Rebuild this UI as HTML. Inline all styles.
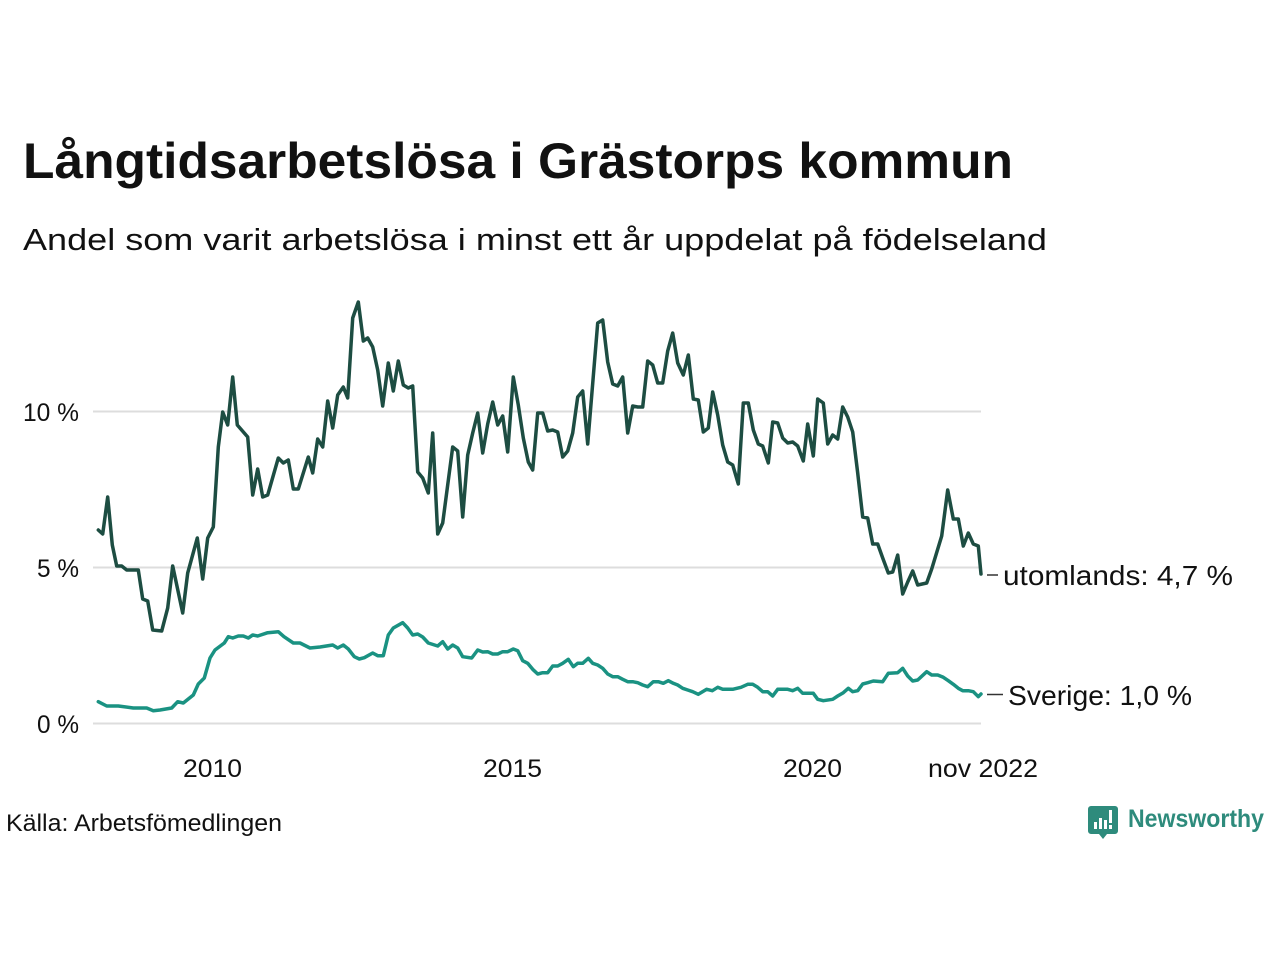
<!DOCTYPE html>
<html>
<head>
<meta charset="utf-8">
<style>
  html,body{margin:0;padding:0;background:#fff;}
  svg{display:block;}
  text{font-family:"Liberation Sans","DejaVu Sans",sans-serif;fill:#111;}
</style>
</head>
<body>
<svg width="1280" height="960" viewBox="0 0 1280 960" xmlns="http://www.w3.org/2000/svg">
  <rect width="1280" height="960" fill="#fff"/>
  <!-- Title -->
  <text x="23" y="178" font-size="50" font-weight="bold" textLength="990" lengthAdjust="spacingAndGlyphs">Långtidsarbetslösa i Grästorps kommun</text>
  <text x="23" y="250" font-size="31" textLength="1024" lengthAdjust="spacingAndGlyphs" fill="#1a1a1a">Andel som varit arbetslösa i minst ett år uppdelat på födelseland</text>

  <!-- gridlines -->
  <g stroke="#dddddd" stroke-width="2">
    <line x1="93" y1="411.5" x2="981" y2="411.5"/>
    <line x1="93" y1="567.5" x2="981" y2="567.5"/>
    <line x1="93" y1="723.5" x2="981" y2="723.5"/>
  </g>

  <!-- y tick labels -->
  <g font-size="25" text-anchor="end" fill="#1a1a1a">
    <text x="79" y="421" textLength="56" lengthAdjust="spacingAndGlyphs">10 %</text>
    <text x="79" y="577" textLength="42" lengthAdjust="spacingAndGlyphs">5 %</text>
    <text x="79" y="733" textLength="42" lengthAdjust="spacingAndGlyphs">0 %</text>
  </g>

  <!-- x tick labels -->
  <g font-size="25" fill="#1a1a1a">
    <text x="183" y="777" textLength="59" lengthAdjust="spacingAndGlyphs">2010</text>
    <text x="483" y="777" textLength="59" lengthAdjust="spacingAndGlyphs">2015</text>
    <text x="783" y="777" textLength="59" lengthAdjust="spacingAndGlyphs">2020</text>
    <text x="928" y="777" textLength="110" lengthAdjust="spacingAndGlyphs">nov 2022</text>
  </g>

  <!-- teal series: Sverige -->
  <polyline fill="none" stroke="#1a9282" stroke-width="3.5" stroke-linejoin="round" stroke-linecap="round"
    points="98.3,701.7 106.7,706 118.3,706 133.3,708 146.7,708 153.3,710.7 160,710 171.7,708 177.7,701.7 183.3,703 193.3,695 198.3,684 204.3,678 210,658 215,650 224.3,643 228.3,636.7 232.7,638 238.3,636 243.3,636 248.3,638 252.7,635 257.7,636 267.7,632.7 278.3,631.7 284,636.7 293.3,643 300,643 310,648 320,647 332.7,645 337.7,648 343.3,645 348.3,649 354.3,656.7 359.3,659 364.3,657.7 372.7,653 377.7,655.7 383.3,655.7 388.3,635 393.3,628 402.7,622.7 407.7,628 412.7,635 417.7,634 422.7,637 428.3,643 437.7,646 442.7,641.7 447.7,649 452.7,645 457.7,648 462.7,656.7 471.7,658 477.7,650 482.7,652 487.7,651.7 492.7,654 497.7,654 502.7,651.7 507.7,651.7 513.3,649 517.7,650.7 522.7,660.7 527.7,663.3 532.7,669.3 537.7,674 542.7,672.7 547.7,672.7 552.7,666 557.7,666 562.7,663.3 568.3,659.3 573.3,666.7 577.7,663.3 582.7,663.3 588.3,658.3 592.7,663.3 597.7,665 602.7,668.3 607.7,674 612.7,676.7 617.7,676.7 622.7,679.3 627.7,681.7 632.7,681.7 637.7,682.7 642.7,685 647.7,686.7 653.3,681.7 658.3,681.7 663.3,683.3 668.3,680.7 673.3,683.3 677.7,685 682.7,688.3 687.7,690 692.7,691.7 698.3,694.3 706.7,689.3 712.3,690.7 717.7,687.3 722.7,689.3 732.7,689.3 741,687.3 747.7,684.3 752.7,684.3 757.7,687.3 762.7,691.7 767.7,691.7 772.7,696 777.7,689.3 787.7,689.3 792.7,690.7 797.7,688.3 802.7,693.3 813.3,693.3 817.7,699.3 823.3,700.7 832.7,699.3 837.7,696 843.3,692.7 848.3,688.3 852.7,691.7 857.7,690.7 862.7,684 867.7,682.7 873.3,681 882.7,681.7 888.3,673.3 897.7,672.7 902.7,668.3 907.7,676 912.7,681 917.7,680 926.7,671.7 931.7,675 937.7,675 943.3,677.3 948.3,680.7 953.3,684.3 958.3,688.3 962.7,690.7 968.3,690.7 973.3,691.7 978.3,696.7 981,694"/>

  <!-- dark series: utomlands -->
  <polyline fill="none" stroke="#1d4d42" stroke-width="3.5" stroke-linejoin="round" stroke-linecap="round"
    points="98.3,530 102.7,534 107.7,497 112.3,545 116.7,566 121.7,566 126.7,570 138.3,570 142.7,599 147.7,601 152.7,630 161.7,631 167.7,608 172.7,566 182.7,613 187.7,573 197.3,538 202.7,579 207.7,538 213.3,527 218.3,447 222.7,412 227.7,425 232.7,377 237.3,425 247.7,437 252.7,495 257.7,469 262.7,497 267.7,495 278.3,458 283.3,463 288.3,460 293.3,489 298.3,489 308.3,457 312.7,473 317.7,439 322.7,447 327.7,401 332.7,428 337.7,395 343.3,387 347.7,398 352.7,318 358.3,302 363.3,341 367.7,338 372.7,347 377.7,370 382.7,406 388.3,363 393.3,391 398.3,361 403.3,385 408.3,388 412.7,386 417.7,472 422.7,478 428.3,493 432.7,433 437.7,534 442.7,523 452.7,447 457.7,451 462.7,517 467.7,455 472.7,433 477.7,413 482.7,453 487.7,424 492.7,402 497.7,425 502.7,416 507.7,452 513.3,377 518.3,405 523.3,438 528.3,462 532.7,470 537.7,413 542.7,413 547.7,431 552.7,430 557.7,432 562.7,457 567.7,451 572.7,433 577.7,397 582.7,391 587.7,444 597.7,323 602.7,320 607.7,362 612.7,384 617.7,386 622.7,377 627.7,433 632.7,406 637.7,407 642.7,407 647.7,361 652.7,365 657.7,383 662.7,383 667.7,351 672.7,333 677.7,363 683.3,375 688.3,355 693.3,399 698.3,400 703.3,432 708.3,428 712.7,392 717.7,415 722.7,445 727.7,462 732.7,465 738.3,484 743.3,403 748.3,403 753.3,430 758.3,444 762.7,446 768.3,463 772.7,422 777.7,423 782.7,438 787.7,443 792.7,442 797.7,446 803.3,461 807.7,424 813.3,456 817.7,399 823.3,403 827.7,444 832.7,435 837.7,439 842.7,407 847.7,417 852.7,432 857.7,473 862.7,517 867.7,518 872.7,544 877.7,544 882.7,558 888.3,573 892.7,572 897.7,555 902.7,594 907.7,582 912.7,571 917.7,585 926.7,583 931.7,569 941.7,536 947.7,490 953.3,519 958.3,519 963.3,546 968.3,533 973.3,544 978.3,546 981,574"/>

  <!-- end labels -->
  <g stroke="#333" stroke-width="1.5">
    <line x1="987" y1="575" x2="998" y2="575"/>
    <line x1="987" y1="694.5" x2="1003" y2="694.5"/>
  </g>
  <text x="1003" y="585" font-size="28" textLength="230" lengthAdjust="spacingAndGlyphs" fill="#1a1a1a">utomlands: 4,7 %</text>
  <text x="1008" y="705" font-size="28" textLength="184" lengthAdjust="spacingAndGlyphs" fill="#1a1a1a">Sverige: 1,0 %</text>

  <!-- source -->
  <text x="6" y="831" font-size="24" textLength="276" lengthAdjust="spacingAndGlyphs" fill="#1a1a1a">Källa: Arbetsfömedlingen</text>

  <!-- Newsworthy logo -->
  <g>
    <path d="M1091,806 h24 a3,3 0 0 1 3,3 v22 a3,3 0 0 1 -3,3 h-8 l-4,5 l-4,-5 h-8 a3,3 0 0 1 -3,-3 v-22 a3,3 0 0 1 3,-3 z" fill="#2e8b7c"/>
    <rect x="1094" y="822" width="3" height="7" fill="#fff"/>
    <rect x="1099" y="818" width="3" height="11" fill="#fff"/>
    <rect x="1104" y="820" width="3" height="9" fill="#fff"/>
    <rect x="1109" y="810" width="3" height="13" fill="#fff"/>
    <rect x="1109" y="825" width="3" height="4" fill="#fff"/>
  </g>
  <text x="1128" y="827" font-size="25" font-weight="600" textLength="136" lengthAdjust="spacingAndGlyphs" style="fill:#2e8b7c">Newsworthy</text>
</svg>
</body>
</html>
